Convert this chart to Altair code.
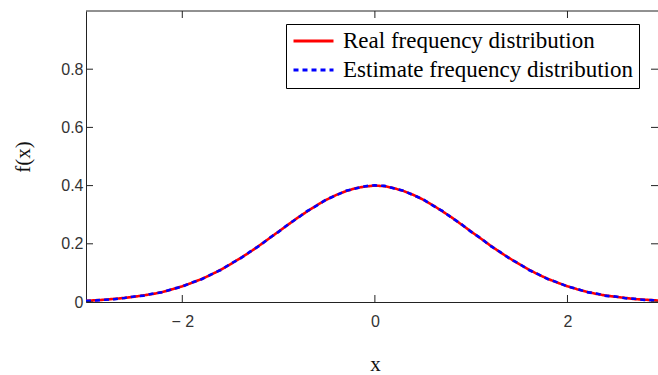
import altair as alt
import pandas as pd

# ---- data ----
x_vals = [-3.0, -2.9, -2.8, -2.7, -2.6, -2.5, -2.4, -2.3, -2.2, -2.1,
          -2.0, -1.9, -1.8, -1.7, -1.6, -1.5, -1.4, -1.3, -1.2, -1.1,
          -1.0, -0.9, -0.8, -0.7, -0.6, -0.5, -0.4, -0.3, -0.2, -0.1,
          0.0, 0.1, 0.2, 0.3, 0.4, 0.5, 0.6, 0.7, 0.8, 0.9,
          1.0, 1.1, 1.2, 1.3, 1.4, 1.5, 1.6, 1.7, 1.8, 1.9,
          2.0, 2.1, 2.2, 2.3, 2.4, 2.5, 2.6, 2.7, 2.8, 2.9, 3.0]
real_vals = [0.004, 0.006, 0.008, 0.011, 0.014, 0.018, 0.023, 0.028, 0.035, 0.044,
             0.054, 0.066, 0.079, 0.094, 0.111, 0.130, 0.150, 0.171, 0.194, 0.218,
             0.242, 0.266, 0.290, 0.312, 0.333, 0.352, 0.368, 0.381, 0.391, 0.397,
             0.400, 0.398, 0.391, 0.381, 0.368, 0.352, 0.333, 0.312, 0.290, 0.266,
             0.242, 0.218, 0.194, 0.171, 0.150, 0.130, 0.111, 0.094, 0.079, 0.066,
             0.054, 0.044, 0.035, 0.028, 0.022, 0.018, 0.014, 0.010, 0.008, 0.006, 0.004]
est_vals = [0.004, 0.005, 0.008, 0.010, 0.014, 0.019, 0.022, 0.029, 0.034, 0.045,
            0.053, 0.067, 0.078, 0.095, 0.110, 0.131, 0.149, 0.172, 0.193, 0.219,
            0.241, 0.267, 0.289, 0.313, 0.332, 0.353, 0.367, 0.382, 0.390, 0.398,
            0.401, 0.399, 0.390, 0.382, 0.367, 0.353, 0.332, 0.313, 0.289, 0.267,
            0.241, 0.219, 0.193, 0.172, 0.149, 0.131, 0.110, 0.095, 0.078, 0.067,
            0.053, 0.045, 0.034, 0.029, 0.021, 0.019, 0.013, 0.011, 0.007, 0.006, 0.004]
series_names = ["Real frequency distribution", "Estimate frequency distribution"]
series_colors = ["#ff0000", "#0000ff"]
x_ticks = [-2, 0, 2]
y_ticks = [0, 0.2, 0.4, 0.6, 0.8]
x_domain = [-3, 2.94]
y_domain = [0, 1.0]

W, H = 572, 291
TICK = 7

df = pd.DataFrame({
    "x": x_vals + x_vals,
    "y": real_vals + est_vals,
    "series": [series_names[0]] * len(x_vals) + [series_names[1]] * len(x_vals),
})
xt_df = pd.DataFrame({"x": x_ticks})
yt_df = pd.DataFrame({"y": y_ticks})
one = pd.DataFrame({"a": [0]})

xs = alt.Scale(domain=x_domain, nice=False, zero=False)
ys = alt.Scale(domain=y_domain, nice=False, zero=False)

x_axis = alt.Axis(values=x_ticks, title="x", ticks=False, grid=False,
                  labelExpr="datum.value < 0 ? '\u2212 ' + format(abs(datum.value), 'd') : format(datum.value, 'd')",
                  labelPadding=11, titleX=289, titleY=68, titleBaseline="alphabetic",
                  titleAlign="center")
y_axis = alt.Axis(values=y_ticks, title="f(x)", ticks=False, grid=False,
                  labelExpr="datum.value == 0 ? '0' : format(datum.value, '.1f')",
                  labelPadding=3, titleX=-63, titleY=H / 2, titleAngle=270,
                  titleAlign="center", titleBaseline="middle")

X = alt.X("x:Q", scale=xs, axis=x_axis)
Y = alt.Y("y:Q", scale=ys, axis=y_axis)

leg = alt.Legend(title=None, orient="none", legendX=200, legendY=13)
color = alt.Color("series:N", scale=alt.Scale(domain=series_names, range=series_colors), legend=leg)
dash = alt.StrokeDash("series:N", scale=alt.Scale(domain=series_names, range=[[1, 0], [5, 4]]), legend=leg)

base = alt.Chart(df)
real_line = base.transform_filter(alt.datum.series == series_names[0]).mark_line(
    strokeWidth=2.6, clip=True).encode(x=X, y=Y, color=color, strokeDash=dash)
est_line = base.transform_filter(alt.datum.series == series_names[1]).mark_line(
    strokeWidth=2.6, clip=True).encode(x=X, y=Y, color=color, strokeDash=dash)

axc = "#222222"
xt_bottom = alt.Chart(xt_df).mark_rule(color=axc, strokeWidth=1).encode(
    x=X, y=alt.value(H), y2=alt.value(H - TICK))
xt_top = alt.Chart(xt_df).mark_rule(color=axc, strokeWidth=1).encode(
    x=X, y=alt.value(0), y2=alt.value(TICK))
yt_left = alt.Chart(yt_df).mark_rule(color=axc, strokeWidth=1).encode(
    y=Y, x=alt.value(0), x2=alt.value(TICK))
yt_right = alt.Chart(yt_df).mark_rule(color=axc, strokeWidth=1).encode(
    y=Y, x=alt.value(W - TICK), x2=alt.value(W))
top_border = alt.Chart(one).mark_rule(color=axc, strokeWidth=1).encode(
    x=alt.value(0), x2=alt.value(W), y=alt.value(0))

chart = alt.layer(real_line, est_line, xt_bottom, xt_top, yt_left, yt_right, top_border).properties(
    width=W, height=H,
    autosize=alt.AutoSizeParams(type="none"),
    padding={"left": 86, "top": 11, "right": 0, "bottom": 73},
    background="white",
).configure_view(stroke=None).configure_axis(
    domainColor=axc, domainWidth=1,
    labelFont="Liberation Sans", labelFontSize=16, labelColor="#333333",
    titleFont="Liberation Serif", titleFontSize=21, titleFontWeight="normal", titleColor="#111111",
).configure_legend(
    labelFont="Liberation Serif", labelFontSize=23, labelColor="#000000", labelLimit=0,
    strokeColor="#000000", fillColor="#ffffff", padding=6, cornerRadius=0,
    symbolType="stroke", symbolSize=1600, symbolStrokeWidth=3, rowPadding=6, labelOffset=8,
    clipHeight=22,
)

chart.save("out.html", embed_options={"renderer": "svg", "actions": False})
